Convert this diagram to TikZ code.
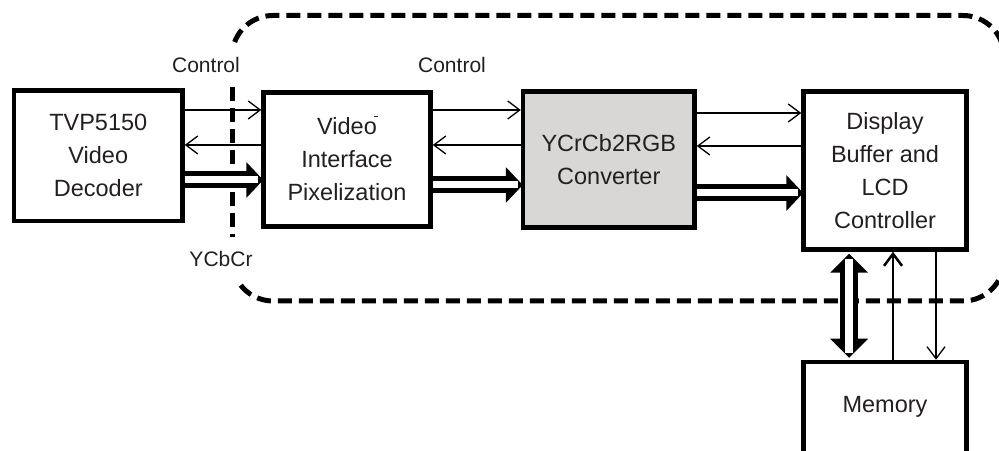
\documentclass[tikz,border=0pt]{standalone}
\usepackage{fontspec}
\setmainfont{Liberation Sans}
\usetikzlibrary{arrows.meta,calc}
\definecolor{txt}{HTML}{231F20}
\definecolor{boxgray}{RGB}{216,215,213}
\tikzset{
  thintip/.tip={Straight Barb[length=12pt 0 0, width=18pt 0 0]},
}
% horizontal bus arrow (start, end) pointing right
\newcommand{\busR}[2]{%
  \draw[busblack] (#1) -- ($(#2)+(-12,0)$);
  \fill[black] ($(#2)+(-17,18)$) -- (#2) -- ($(#2)+(-17,-18)$) -- cycle;
  \draw[busin] (#1) -- ($(#2)+(-5,0)$);
}
% vertical bidirectional bus (top end, bottom end)
\newcommand{\busUD}[2]{%
  \draw[busblack, line width=18pt] ($(#1)+(0,-13)$) -- ($(#2)+(0,13)$);
  \fill[black] ($(#1)+(-19,-19)$) -- (#1) -- ($(#1)+(19,-19)$) -- cycle;
  \fill[black] ($(#2)+(-19,19)$) -- (#2) -- ($(#2)+(19,19)$) -- cycle;
  \draw[busin, line width=8pt] ($(#1)+(0,-5)$) -- ($(#2)+(0,5)$);
}
\begin{document}
\begin{tikzpicture}[x=1pt,y=1pt,
  box/.style={draw=black, line width=4.5pt, inner sep=0pt, align=center,
    font=\fontsize{23.5}{33}\selectfont, text=txt},
  boxtext/.style={inner sep=0pt, align=center, font=\fontsize{23.5}{33}\selectfont, text=txt},
  lbl/.style={inner sep=0pt, font=\fontsize{21}{25}\selectfont, text=txt},
  ctl/.style={draw=black, line width=1.3pt, -thintip},
  ctlthick/.style={draw=black, line width=2.5pt, -thintip},
  busblack/.style={draw=black, line width=17pt},
  busin/.style={draw=white, line width=7pt},
  dashln/.style={draw=black, line width=5pt, dash pattern=on 14pt off 7pt},
]
\useasboundingbox (0,0) rectangle (999,450);
\clip (0,0) rectangle (999,450);

% dashed enclosure
\draw[dashln] (232,363) -- (232,213);
\draw[dashln] (234.65,408) arc[start angle=159.3, end angle=90, radius=41]
  -- (963,434.5) arc[start angle=90, end angle=0, radius=41]
  -- (1004,190) arc[start angle=0, end angle=-90, radius=41]
  -- (273,149) arc[start angle=270, end angle=215, radius=41];

% blocks
\node[box, minimum width=168.5pt, minimum height=130.5pt] (b1) at (98.25,294.25)
  {TVP5150\\Video\\Decoder};
\node[box, minimum width=167pt, minimum height=134pt] (b2) at (347,290.5)
  {Video\kern-3pt\raisebox{18pt}[0pt][0pt]{\rule{4pt}{1.3pt}}\kern-1pt\\Interface\\Pixelization};
\node[box, fill=boxgray, minimum width=171.5pt, minimum height=136pt] (b3) at (608.75,290.5)
  {YCrCb2RGB\\Converter};
\node[box, minimum width=163pt, minimum height=158pt] (b4) at (885,279.5)
  {Display\\Buffer and\\LCD\\Controller};
\node[box, minimum width=163pt, minimum height=120pt] (mem) at (885,28) {};
\node[boxtext] (memtext) at (885,43) {Memory};

% labels
\node[lbl, anchor=base] (c1) at (206,377) {Control};
\node[lbl, anchor=base] (c2) at (452,377) {Control};
\node[lbl, anchor=base] (ycc) at (221,183) {YCbCr};

% bus end points
\coordinate (s12) at (b1.east |- 0,270);
\coordinate (e12) at ([xshift=2pt]b2.west |- 0,270);
\coordinate (s23) at (b2.east |- 0,265);
\coordinate (e23) at ([xshift=2pt]b3.west |- 0,265);
\coordinate (s34) at (b3.east |- 0,257);
\coordinate (e34) at ([xshift=2pt]b4.west |- 0,257);
\coordinate (tm) at ([yshift=-2pt]b4.south -| 849,0);
\coordinate (bm) at ([yshift=2pt]mem.north -| 849,0);

% b1 <-> b2
\draw[ctl] (b1.east |- 0,340) -- (b2.west |- 0,340);
\draw[ctl] (b2.west |- 0,305) -- (b1.east |- 0,305);
\busR{s12}{e12}

% b2 <-> b3
\draw[ctl] (b2.east |- 0,340) -- (b3.west |- 0,340);
\draw[ctl] (b3.west |- 0,305) -- (b2.east |- 0,305);
\busR{s23}{e23}

% b3 <-> b4
\draw[ctl] (b3.east |- 0,337) -- (b4.west |- 0,337);
\draw[ctl] (b4.west |- 0,304) -- (b3.east |- 0,304);
\busR{s34}{e34}

% b4 <-> memory
\busUD{tm}{bm}
\draw[ctlthick] (mem.north -| 893,0) -- (b4.south -| 893,0);
\draw[ctl] (b4.south -| 936,0) -- (mem.north -| 936,0);
\end{tikzpicture}
\end{document}
